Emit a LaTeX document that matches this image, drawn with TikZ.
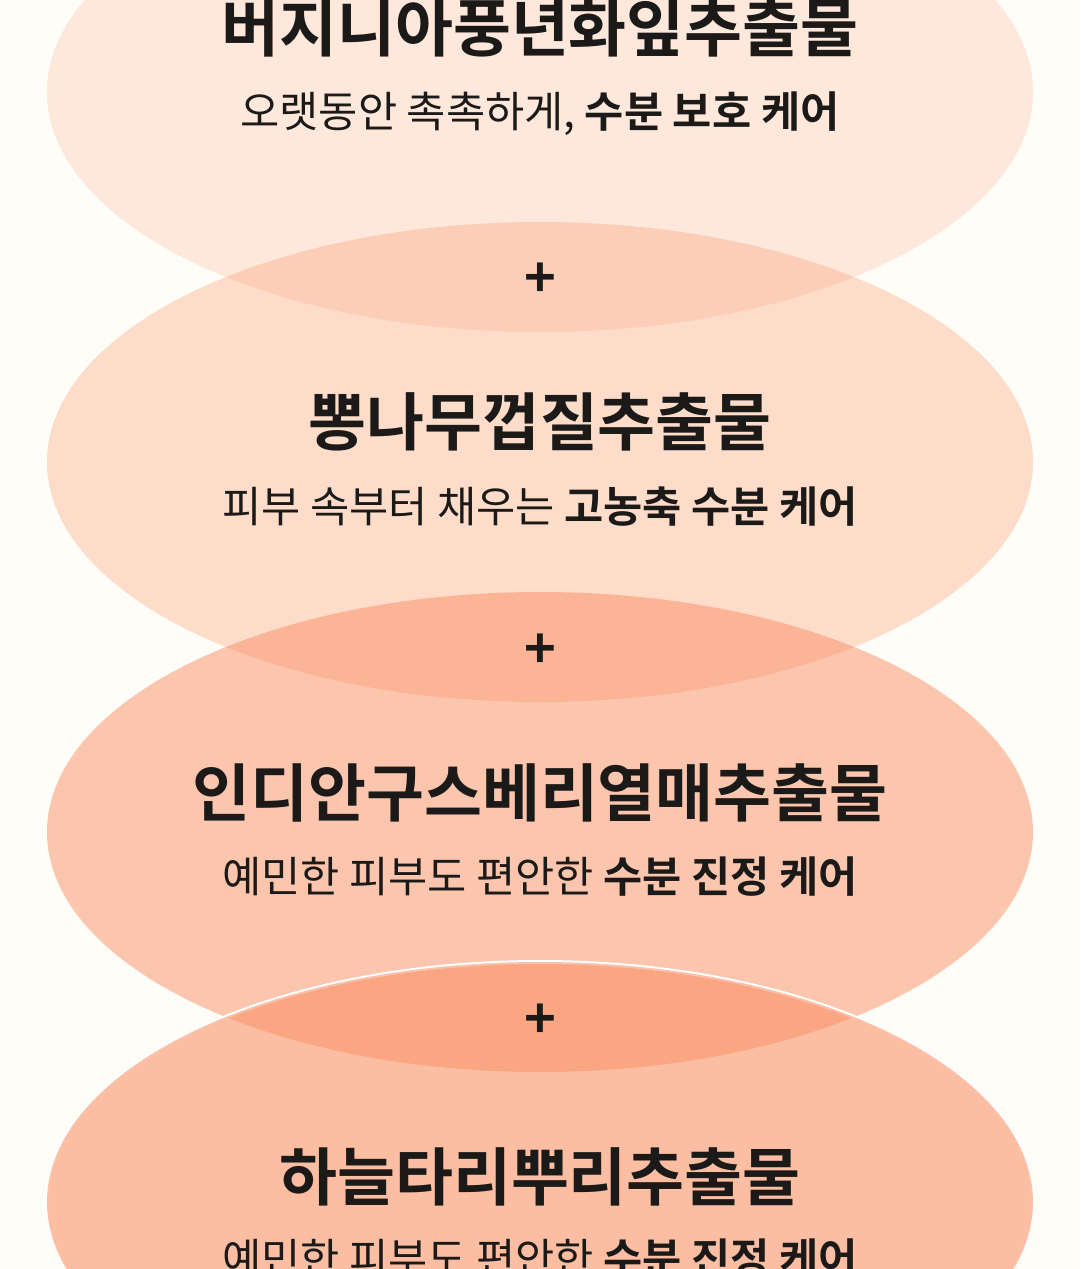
\documentclass[tikz,border=0pt]{standalone}
\usepackage{fontspec}
\newfontfamily\kr{Noto Sans CJK KR}
\newfontfamily\krb{Noto Sans CJK KR Bold}
\definecolor{bg}{RGB}{255,253,247}
\definecolor{peach}{RGB}{250,140,95}
\definecolor{ink}{RGB}{28,26,24}
\tikzset{
 blob/.style={fill=peach,fill opacity=#1,draw=none},
 ttl/.style={font=\krb\fontsize{63}{66}\selectfont,text=ink},
 sub/.style={font=\kr\fontsize{42.6}{46}\selectfont,text=ink},
 plus/.style={font=\krb\fontsize{54}{54}\selectfont,text=ink}
}
\begin{document}
\begin{tikzpicture}[x=1pt,y=-1pt]
\useasboundingbox (0,0) rectangle (1080,1269);
\clip (0,0) rectangle (1080,1269);
\fill[bg] (0,0) rectangle (1080,1269);
\fill[blob=0.18] (540,92) ellipse [x radius=493,y radius=240];
\fill[blob=0.29] (540,462) ellipse [x radius=493,y radius=240];
\fill[blob=0.48] (540,832) ellipse [x radius=493,y radius=240];
\draw[white,line width=4] (540,1202) ellipse [x radius=493,y radius=240];
\fill[blob=0.55] (540,1202) ellipse [x radius=493,y radius=240];
\node[ttl] (t1) at (540,28) {버지니아풍년화잎추출물};
\node[sub] (s1) at (540,114) {오랫동안 촉촉하게, {\krb 수분 보호 케어}};
\node[plus] (p1) at (540,280) {+};
\node[ttl] (t2) at (540,422) {뽕나무껍질추출물};
\node[sub] (s2) at (540,507) {피부 속부터 채우는 {\krb 고농축 수분 케어}};
\node[plus] (p2) at (540,651) {+};
\node[ttl] (t3) at (540,793) {인디안구스베리열매추출물};
\node[sub] (s3) at (540,877) {예민한 피부도 편안한 {\krb 수분 진정 케어}};
\node[plus] (p3) at (540,1021) {+};
\node[ttl] (t4) at (540,1177) {하늘타리뿌리추출물};
\node[sub] (s4) at (540,1259) {예민한 피부도 편안한 {\krb 수분 진정 케어}};
\end{tikzpicture}
\end{document}
